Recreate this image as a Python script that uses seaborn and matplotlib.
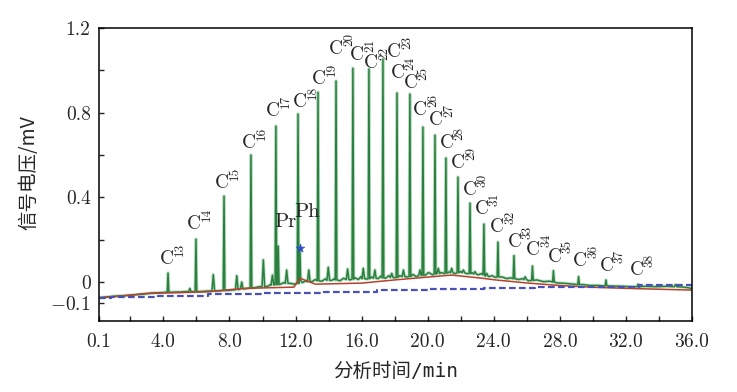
import numpy as np
import pandas as pd
import matplotlib
matplotlib.use('Agg')
import matplotlib.pyplot as plt
import seaborn as sns
from matplotlib.ticker import FixedLocator, FixedFormatter

# n-alkane peaks: retention time (min), apex (mV), foot (mV)
alkane_names = ['C13', 'C14', 'C15', 'C16', 'C17', 'C18', 'C19', 'C20', 'C21',
                'C22', 'C23', 'C24', 'C25', 'C26', 'C27', 'C28', 'C29', 'C30',
                'C31', 'C32', 'C33', 'C34', 'C35', 'C36', 'C37', 'C38']
alkane_time = [4.28, 5.97, 7.67, 9.30, 10.81, 12.15, 13.36, 14.45, 15.47,
               16.44, 17.29, 18.14, 18.92, 19.71, 20.44, 21.10, 21.83, 22.56,
               23.40, 24.25, 25.22, 26.34, 27.61, 29.13, 30.79, 32.73]
alkane_height = [0.043, 0.203, 0.406, 0.600, 0.737, 0.794, 0.897, 0.950, 1.010,
                 1.006, 1.053, 0.893, 0.888, 0.732, 0.694, 0.586, 0.496, 0.373,
                 0.274, 0.189, 0.125, 0.076, 0.054, 0.026, 0.010, -0.010]
alkane_foot = [-0.048, -0.045, -0.040, -0.028, -0.012, -0.006, 0.006, 0.010, 0.014,
               0.016, 0.020, 0.022, 0.026, 0.032, 0.038, 0.042, 0.044, 0.040,
               0.034, 0.024, 0.016, 0.008, 0.000, -0.012, -0.018, -0.022]

# isoprenoids pristane / phytane
iso_names = ['Pr', 'Ph']
iso_time = [10.95, 12.26]
iso_height = [0.170, 0.160]
iso_foot = [-0.012, 0.008]

# small unlabelled peaks
minor_time = [5.60, 7.02, 8.44, 8.74, 10.05, 10.60, 11.46, 12.80, 13.98, 15.15,
              16.10, 16.80, 17.82, 18.53, 19.53, 20.64, 21.45, 22.16, 22.86,
              23.57, 25.90, 35.00]
minor_height = [-0.030, 0.035, 0.030, 0.000, 0.105, 0.033, 0.057, 0.057, 0.070,
                0.062, 0.065, 0.057, 0.041, 0.057, 0.057, 0.065, 0.065, 0.057,
                0.049, 0.041, 0.025, -0.012]
minor_foot = [-0.046, -0.042, -0.036, -0.032, -0.022, -0.014, -0.006, 0.002, 0.008,
              0.012, 0.016, 0.018, 0.022, 0.026, 0.030, 0.040, 0.044, 0.044,
              0.038, 0.028, 0.012, -0.022]

# green noise floor between the peaks
floor_time = [0.1, 1.0, 2.0, 2.8, 3.3, 3.9, 4.5, 5.0, 5.4, 6.2, 6.6, 7.4, 7.8,
              8.2, 8.6, 9.0, 9.5, 9.8, 10.3, 10.5, 11.15, 11.3, 11.7, 11.9,
              12.4, 12.6, 13.0, 13.2, 13.6, 13.8, 14.2, 14.35, 14.7, 14.9, 15.3,
              15.6, 15.8, 15.95, 16.3, 16.6, 17.0, 17.15, 17.45, 17.65, 18.0,
              18.3, 18.7, 19.1, 19.3, 19.85, 20.05, 20.3, 20.8, 21.0, 21.3,
              21.65, 22.0, 22.35, 22.7, 23.05, 23.25, 23.7, 23.9, 24.1, 24.5,
              24.8, 25.0, 25.5, 25.75, 26.1, 26.6, 27.0, 27.4, 27.8, 28.3, 28.8,
              29.4, 29.8, 30.3, 30.6, 31.2, 31.8, 32.3, 33.2, 33.8, 34.5, 35.5,
              36.0]
floor_value = [-0.074, -0.067, -0.062, -0.057, -0.052, -0.050, -0.048, -0.047,
               -0.045, -0.045, -0.043, -0.041, -0.040, -0.037, -0.034, -0.031,
               -0.027, -0.022, -0.020, -0.012, -0.008, -0.002, -0.006, -0.010,
               -0.003, 0.005, 0.002, 0.012, 0.004, 0.015, 0.008, 0.016, 0.006,
               0.018, 0.010, 0.020, 0.012, 0.025, 0.014, 0.024, 0.016, 0.028,
               0.018, 0.030, 0.020, 0.030, 0.024, 0.036, 0.026, 0.032, 0.045,
               0.034, 0.045, 0.040, 0.048, 0.040, 0.050, 0.040, 0.044, 0.034,
               0.040, 0.026, 0.030, 0.022, 0.024, 0.016, 0.020, 0.012, 0.016,
               0.006, 0.010, 0.002, 0.004, -0.004, -0.006, -0.010, -0.012,
               -0.016, -0.016, -0.018, -0.019, -0.020, -0.022, -0.020, -0.022,
               -0.020, -0.024, -0.030]

# red baseline
red_time = [0.1, 1.5, 2.9, 6.7, 8.9, 11.9, 12.27, 13.2, 16.0, 18.0, 21.45,
            23.3, 24.1, 26.1, 28.1, 30.1, 32.1, 36.0]
red_value = [-0.074, -0.066, -0.054, -0.046, -0.030, -0.024, 0.018, -0.010,
             -0.005, 0.010, 0.033, 0.018, 0.010, -0.005, -0.017, -0.025,
             -0.030, -0.038]

# blue dashed baseline (stepped)
blue_time = [0.1, 0.8, 3.7, 6.7, 10.1, 13.6, 16.9, 20.1, 23.4, 26.5, 32.8, 36.0]
blue_value = [-0.074, -0.069, -0.065, -0.058, -0.053, -0.046, -0.038, -0.032,
              -0.028, -0.024, -0.014, -0.014]

# where the peak labels sit (centre of the "C")
label_time = [4.23, 5.87, 7.56, 9.20, 10.61, 12.27, 13.40, 14.45, 15.72,
              16.58, 17.96, 18.18, 18.95, 19.53, 20.50, 21.15, 21.85, 22.56,
              23.27, 24.21, 25.28, 26.39, 27.67, 29.22, 30.83, 32.65]
label_value = [0.107, 0.274, 0.469, 0.658, 0.809, 0.852, 0.960, 1.100, 1.072,
               1.035, 1.085, 0.985, 0.940, 0.812, 0.765, 0.655, 0.561, 0.435,
               0.343, 0.261, 0.190, 0.151, 0.120, 0.099, 0.076, 0.057]
iso_label_time = [11.36, 12.71]
iso_label_value = [0.285, 0.332]

x_major = [0.1, 4, 8, 12, 16, 20, 24, 28, 32, 36]
x_major_labels = ['0.1', '4.0', '8.0', '12.0', '16.0', '20.0', '24.0', '28.0', '32.0', '36.0']
x_minor = [2, 6, 10, 14, 18, 22, 26, 30, 34]
y_major = [1.2, 0.8, 0.4, 0, -0.1]
y_major_labels = ['1.2', '0.8', '0.4', '0', r'$-0.1$']
y_minor = [1.0, 0.6, 0.2]

PEAK_HALF_W = 0.05
MINOR_HALF_W = 0.08


def build_trace():
    """Noise floor plus a narrow spike for every peak."""
    t = list(floor_time)
    v = list(floor_value)
    spikes = [(alkane_time + iso_time, alkane_height + iso_height, alkane_foot + iso_foot, PEAK_HALF_W),
              (minor_time, minor_height, minor_foot, MINOR_HALF_W)]
    for times, heights, feet, w in spikes:
        for pt, ph, pf in zip(times, heights, feet):
            t += [pt - w, pt, pt + w]
            v += [pf, ph, pf]
    return pd.DataFrame({'time': t, 'signal': v}).sort_values('time', kind='stable')


sns.set_style('ticks')
plt.rcParams['font.family'] = ['cmr10', 'DejaVu Serif']
plt.rcParams['mathtext.fontset'] = 'cm'
plt.rcParams['axes.unicode_minus'] = False
plt.rcParams['axes.linewidth'] = 1.1

fig = plt.figure(figsize=(7.37, 3.92), dpi=100)
ax = fig.add_axes([0.1343, 0.1811, 0.8047, 0.7475])

trace = build_trace()
sns.lineplot(data=trace, x='time', y='signal', estimator=None, sort=False,
             color='#8cc79a', linewidth=2.4, alpha=0.55, ax=ax)
sns.lineplot(data=trace, x='time', y='signal', estimator=None, sort=False,
             color='#2b8040', linewidth=1.1, ax=ax)
sns.lineplot(x=red_time, y=red_value, estimator=None, sort=False,
             color='#b8402e', linewidth=1.1, ax=ax)
sns.lineplot(x=blue_time, y=blue_value, estimator=None, sort=False,
             color='#4a50b4', linewidth=1.6, linestyle=(0, (3, 1.5)),
             drawstyle='steps-post', ax=ax)
sns.scatterplot(x=[iso_time[1]], y=[iso_height[1]], marker='*', s=40,
                color='#3050c8', edgecolor='#3050c8', ax=ax, zorder=5)

for name, lt, lv in zip(alkane_names, label_time, label_value):
    ax.text(lt, lv, 'C', fontsize=14, ha='center', va='center')
    ax.annotate(name[1:], xy=(lt, lv), xytext=(9.3, 7), textcoords='offset points',
                fontsize=9.5, rotation=90, ha='center', va='center')
for name, lt, lv in zip(iso_names, iso_label_time, iso_label_value):
    ax.text(lt, lv, name, fontsize=15, ha='center', va='center')

ax.set_xlim(0.1, 36.0)
ax.set_ylim(-0.184, 1.2)
ax.xaxis.set_major_locator(FixedLocator(x_major))
ax.xaxis.set_major_formatter(FixedFormatter(x_major_labels))
ax.xaxis.set_minor_locator(FixedLocator(x_minor))
ax.yaxis.set_major_locator(FixedLocator(y_major))
ax.yaxis.set_major_formatter(FixedFormatter(y_major_labels))
ax.yaxis.set_minor_locator(FixedLocator(y_minor))
ax.tick_params(which='both', direction='in', length=3.5, width=1.0,
               labelsize=14, top=False, right=False)
ax.tick_params(axis='x', which='major', pad=9)
ax.tick_params(axis='y', which='major', pad=6)

ax.set_xlabel('分析时间/min', fontsize=14, family=['DejaVu Sans Mono', 'Noto Sans CJK SC'])
ax.set_ylabel('信号电压/mV', fontsize=14, family=['Noto Sans CJK SC'])
ax.xaxis.set_label_coords(0.5, -0.14)
ax.yaxis.set_label_coords(-0.10, 0.505)
for s in ax.spines.values():
    s.set_visible(True)
    s.set_color('black')

fig.savefig('out.png', dpi=100)
